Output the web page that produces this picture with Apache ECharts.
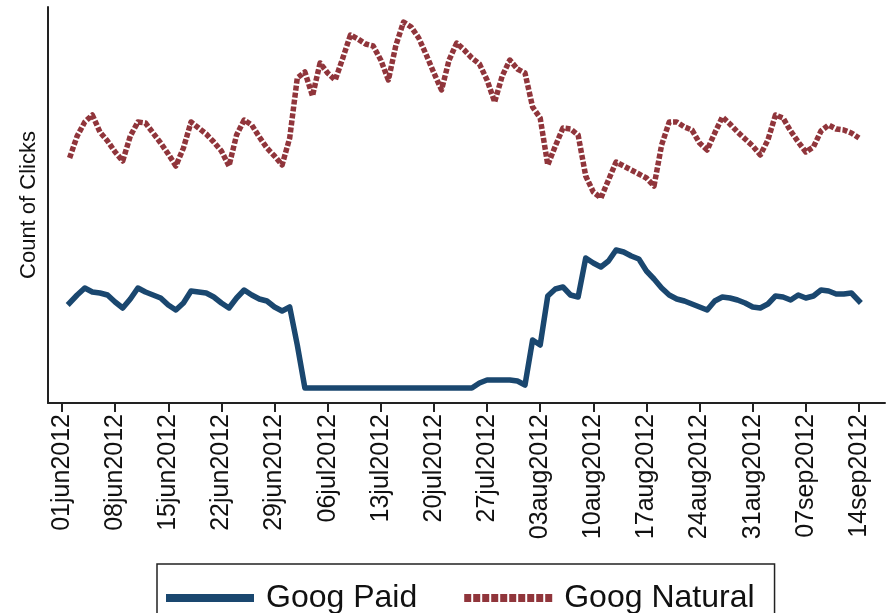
<!DOCTYPE html>
<html>
<head>
<meta charset="utf-8">
<script src="https://cdn.jsdelivr.net/npm/echarts@6/dist/echarts.min.js"></script>
<style>
html,body{margin:0;padding:0;background:#fff;}
#chart{width:886px;height:613px;}
</style>
</head>
<body>
<div id="chart"></div>
<script>
// x positions: day offset from 01jun2012 (data run 02jun2012 .. 14sep2012)
const tickDays = [0,7,14,21,28,35,42,49,56,63,70,77,84,91,98,105];
const tickLabels = ['01jun2012','08jun2012','15jun2012','22jun2012','29jun2012','06jul2012','13jul2012','20jul2012','27jul2012','03aug2012','10aug2012','17aug2012','24aug2012','31aug2012','07sep2012','14sep2012'];
const firstDay = 1;

const googPaid = [
  100,108,115,111,110,108,101,95,104,115,111,108,105,98,93,100,112,111,110,106,100,95,105,113,108,104,102,96,92,96,58,
  15,15,15,15,15,15,15,15,15,15,15,15,15,15,15,15,15,15,15,15,15,15,15,
  20,23,23,23,23,22,18,63,58,107,114,116,108,106,145,140,136,142,153,151,147,144,132,124,115,108,104,102,99,96,93,
  102,106,105,103,100,96,95,99,107,106,103,108,105,107,113,112,109,109,110,102
];
const googNatural = [
  245,267,281,288,271,262,251,242,267,281,280,270,260,249,237,255,281,275,269,261,252,237,268,283,278,266,255,247,238,265,
  325,331,307,340,330,323,345,368,364,359,357,343,323,358,381,376,365,348,330,313,343,360,353,345,339,323,301,327,343,334,330,
  296,285,238,257,275,274,268,227,211,205,223,241,237,233,229,225,217,258,281,281,276,273,260,253,270,286,279,271,264,257,248,
  263,288,285,272,261,251,256,272,278,274,273,270,265
];

const font = "'Liberation Sans', Arial, Helvetica, sans-serif";
const toPairs = arr => arr.map((v, i) => [firstDay + i, v]);

const chart = echarts.init(document.getElementById('chart'), null, {renderer: 'canvas'});
chart.setOption({
  animation: false,
  backgroundColor: '#ffffff',
  grid: {left: 48, top: 7, right: 1, bottom: 210, containLabel: false},
  xAxis: {
    type: 'value',
    min: -1.844,
    max: 108.43,
    axisLine: {show: true, onZero: false, lineStyle: {color: '#222', width: 2}},
    splitLine: {show: false},
    axisTick: {show: true, customValues: tickDays, length: 9, lineStyle: {color: '#222', width: 2}},
    axisLabel: {
      show: true,
      customValues: tickDays,
      rotate: 90,
      margin: 11,
      fontFamily: font,
      fontSize: 25,
      color: '#111',
      formatter: v => tickLabels[tickDays.indexOf(Math.round(v))] || ''
    }
  },
  yAxis: {
    type: 'value',
    min: 0,
    max: 396,
    name: 'Count of Clicks',
    nameLocation: 'middle',
    nameGap: 8,
    nameTextStyle: {fontFamily: font, fontSize: 22, color: '#111'},
    axisLine: {show: true, onZero: false, lineStyle: {color: '#222', width: 2}},
    axisTick: {show: false},
    axisLabel: {show: false},
    splitLine: {show: false}
  },
  legend: {
    left: 157,
    top: 564,
    orient: 'horizontal',
    padding: [18, 20, 18, 9],
    itemGap: 43,
    itemWidth: 88,
    itemHeight: 10,
    borderColor: '#222',
    borderWidth: 1.5,
    textStyle: {fontFamily: font, fontSize: 32, color: '#111', padding: [0, 0, 0, 7]},
    data: [
      {name: 'Goog Paid', icon: 'path://M0,0 L88,0 L88,8 L0,8 Z', itemStyle: {color: '#1A476F'}},
      {name: 'Goog Natural', lineStyle: {width: 8, type: [7, 2], color: '#90353B'}, itemStyle: {opacity: 0}}
    ]
  },
  series: [
    {
      name: 'Goog Paid',
      type: 'line',
      data: toPairs(googPaid),
      showSymbol: false,
      symbol: 'none',
      color: '#1A476F',
      lineStyle: {color: '#1A476F', width: 5.5, cap: 'square', join: 'round'},
      z: 3
    },
    {
      name: 'Goog Natural',
      type: 'line',
      data: toPairs(googNatural),
      showSymbol: false,
      symbol: 'none',
      color: '#90353B',
      lineStyle: {color: '#90353B', width: 5.5, type: [5, 2], cap: 'butt', join: 'round'},
      z: 2
    }
  ]
});
</script>
</body>
</html>
